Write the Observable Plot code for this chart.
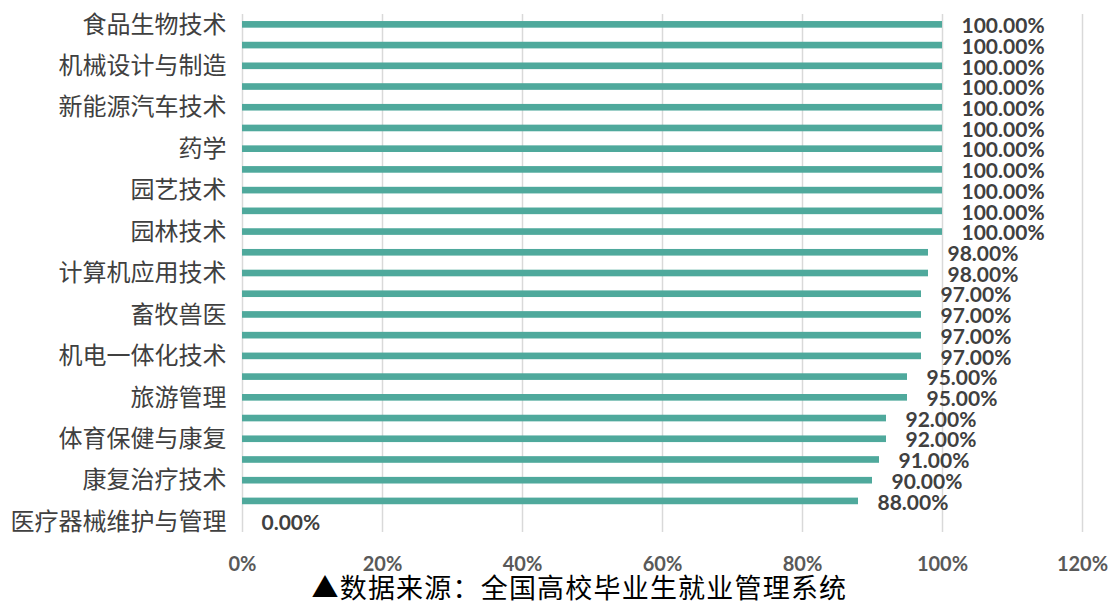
<!DOCTYPE html>
<html><head><meta charset="utf-8">
<script src="https://cdn.jsdelivr.net/npm/d3@7"></script>
<script src="https://cdn.jsdelivr.net/npm/@observablehq/plot@0.6"></script>
<style>body{margin:0;background:#fff} .cap text{letter-spacing:1.2px}</style>
</head><body><div id="chart"></div>
<script>
// Category labels (Excel shows only every other label; hidden ones left blank)
const categories = ["食品生物技术", "", "机械设计与制造", "", "新能源汽车技术", "", "药学", "", "园艺技术", "", "园林技术", "", "计算机应用技术", "", "畜牧兽医", "", "机电一体化技术", "", "旅游管理", "", "体育保健与康复", "", "康复治疗技术", "", "医疗器械维护与管理"];
const rates = [1, 1, 1, 1, 1, 1, 1, 1, 1, 1, 1, 0.98, 0.98, 0.97, 0.97, 0.97, 0.97, 0.95, 0.95, 0.92, 0.92, 0.91, 0.90, 0.88, 0];
const xTicks = [0, 0.2, 0.4, 0.6, 0.8, 1.0, 1.2];
const caption = "▲数据来源：全国高校毕业生就业管理系统";

const rows = rates.map((v, i) => ({i, label: categories[i], v}));
const cjk = "'Noto Sans CJK SC', sans-serif";

const chart = Plot.plot({
  width: 1110, height: 604,
  marginLeft: 242, marginRight: 28, marginTop: 14, marginBottom: 72,
  style: {background: "#fff", fontFamily: cjk},
  x: {domain: [0, 1.2], label: null},
  y: {domain: d3.range(rates.length), paddingInner: 0.68, paddingOuter: 0.34, round: false, label: null},
  marks: [
    Plot.gridX(xTicks, {stroke: "#d9d9d9", strokeOpacity: 1, strokeWidth: 1.5}),
    Plot.barX(rows, {x: "v", y: "i", fill: "#4fa99c"}),
    Plot.text(rows, {x: "v", y: "i", text: d => (d.v * 100).toFixed(2) + "%", dx: 19, dy: 1.5,
      textAnchor: "start", fontWeight: "bold", fontSize: 21, fill: "#404040", fontFamily: "Lato"}),
    Plot.axisX(xTicks, {tickFormat: d => Math.round(d * 100) + "%", tickSize: 0, tickPadding: 24,
      fontSize: 20, fontWeight: "bold", fill: "#595959", fontFamily: "Lato"}),
    Plot.axisY({tickFormat: i => categories[i], tickSize: 0, tickPadding: 16,
      fontSize: 24, fill: "#404040", fontFamily: cjk}),
    Plot.text([caption], {frameAnchor: "bottom-left", dx: 69, dy: 57, textAnchor: "start", lineAnchor: "middle",
      fontSize: 27, fill: "#000", fontFamily: cjk, className: "cap"})
  ]
});
document.getElementById("chart").appendChild(chart);
</script>
</body></html>
